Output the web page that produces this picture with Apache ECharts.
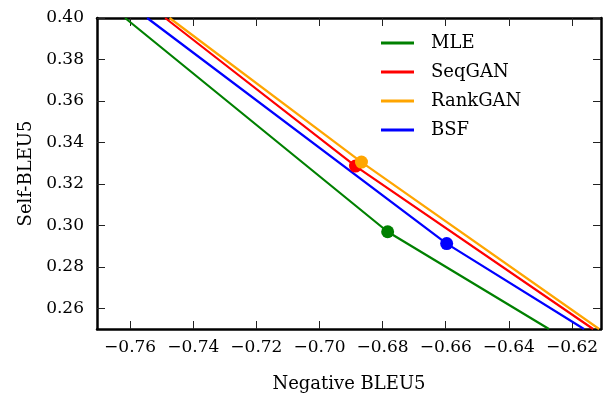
<!DOCTYPE html>
<html>
<head>
<meta charset="utf-8">
<script src="https://cdn.jsdelivr.net/npm/echarts@6/dist/echarts.min.js"></script>
<style>
  html, body { margin: 0; padding: 0; background: #fff; }
  #chart { width: 608px; height: 395px; }
</style>
</head>
<body>
<div id="chart"></div>
<script>
// each model: line start, operating point, line end (x = Negative BLEU5, y = Self-BLEU5)
const names = ['MLE', 'SeqGAN', 'RankGAN', 'BSF'];
const colors = ['#008000', '#ff0000', '#ffa500', '#0000ff'];
const mleX = [-0.7616, -0.6784, -0.6273];
const mleY = [0.400, 0.2969, 0.250];
const seqganX = [-0.7489, -0.6886, -0.6133];
const seqganY = [0.400, 0.3286, 0.250];
const rankganX = [-0.7475, -0.6867, -0.6114];
const rankganY = [0.400, 0.3305, 0.250];
const bsfX = [-0.7546, -0.6597, -0.6162];
const bsfY = [0.400, 0.2912, 0.250];
const xTicks = [-0.76, -0.74, -0.72, -0.70, -0.68, -0.66, -0.64, -0.62];
const yTicks = [0.26, 0.28, 0.30, 0.32, 0.34, 0.36, 0.38, 0.40];

const xs = [mleX, seqganX, rankganX, bsfX];
const ys = [mleY, seqganY, rankganY, bsfY];
const font = 'DejaVu Serif';
const fmt = (v) => v.toFixed(2).replace('-', '\u2212');

const frame = { show: true, onZero: false, lineStyle: { color: '#000', width: 2.5 } };
const ticks = (vals) => ({ show: true, inside: true, length: 8, customValues: vals, lineStyle: { color: '#222', width: 1 } });

const chart = echarts.init(document.getElementById('chart'));
chart.setOption({
  animation: false,
  backgroundColor: '#fff',
  grid: { left: 97, top: 18, right: 7, bottom: 66, outerBoundsMode: 'none' },
  legend: {
    data: names.map((n) => ({ name: n, icon: 'rect' })),
    orient: 'vertical',
    left: 376,
    top: 29,
    itemWidth: 33,
    itemHeight: 3,
    itemGap: 11,
    textStyle: { fontFamily: font, fontSize: 18, color: '#000', padding: [0, 0, 0, 12] },
  },
  xAxis: [
    {
      type: 'value', min: -0.7705, max: -0.6108,
      name: 'Negative BLEU5', nameLocation: 'middle', nameGap: 46,
      nameTextStyle: { fontFamily: font, fontSize: 18, color: '#000' },
      axisLine: frame, axisTick: ticks(xTicks), splitLine: { show: false },
      axisLabel: { customValues: xTicks, formatter: fmt, fontFamily: font, fontSize: 17, color: '#000', margin: 10 },
    },
    {
      type: 'value', position: 'top', min: -0.7705, max: -0.6108,
      axisLine: frame, axisTick: ticks(xTicks), splitLine: { show: false }, axisLabel: { show: false },
    },
  ],
  yAxis: [
    {
      type: 'value', min: 0.25, max: 0.40,
      name: 'Self-BLEU5', nameLocation: 'middle', nameGap: 62,
      nameTextStyle: { fontFamily: font, fontSize: 18, color: '#000' },
      axisLine: frame, axisTick: ticks(yTicks), splitLine: { show: false },
      axisLabel: { customValues: yTicks, formatter: fmt, fontFamily: font, fontSize: 17, color: '#000', margin: 13 },
    },
    {
      type: 'value', position: 'right', min: 0.25, max: 0.40,
      axisLine: frame, axisTick: ticks(yTicks), splitLine: { show: false }, axisLabel: { show: false },
    },
  ],
  series: [
    ...names.map((n, i) => ({
      name: n,
      type: 'line',
      color: colors[i],
      symbol: 'none',
      lineStyle: { width: 2.2, color: colors[i] },
      data: xs[i].map((x, j) => [x, ys[i][j]]),
      z: 2,
    })),
    ...names.map((n, i) => ({
      name: n + ' point',
      type: 'scatter',
      symbolSize: 13,
      itemStyle: { color: colors[i], opacity: 1 },
      data: [[xs[i][1], ys[i][1]]],
      z: 3,
    })),
  ],
});
</script>
</body>
</html>
